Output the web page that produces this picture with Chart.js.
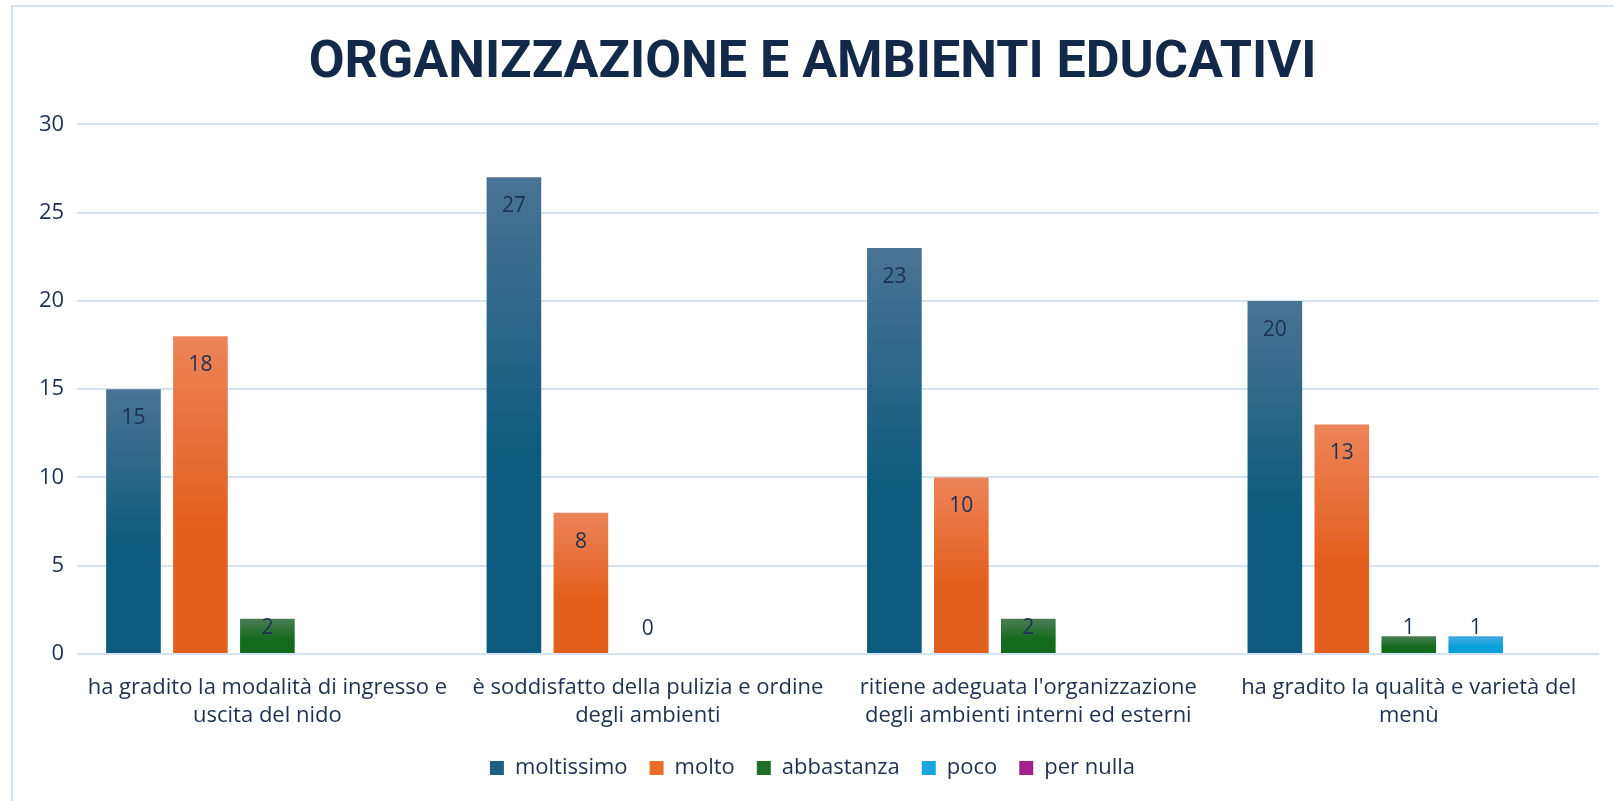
<!DOCTYPE html>
<html>
<head>
<meta charset="utf-8">
<script src="https://cdn.jsdelivr.net/npm/chart.js@4.4.1/dist/chart.umd.min.js"></script>
<style>
  html, body { margin: 0; padding: 0; background: #fff; }
  #wrap { position: relative; width: 1614px; height: 801px; overflow: hidden; }
  #frame { position: absolute; left: 11px; top: 5px; right: -10px; bottom: -10px; border: 2px solid #d5e4f4; }
  #c { position: absolute; left: 0; top: 0; }
</style>
</head>
<body>
<div id="wrap">
  <div id="frame"></div>
  <canvas id="c" width="1614" height="801"></canvas>
</div>
<script>
/* data */
const categories = [
  ["ha gradito la modalità di ingresso e", "uscita del nido"],
  ["è soddisfatto della pulizia e ordine", "degli ambienti"],
  ["ritiene adeguata l'organizzazione", "degli ambienti interni ed esterni"],
  ["ha gradito la qualità e varietà del", "menù"],
];
const seriesNames = ["moltissimo", "molto", "abbastanza", "poco", "per nulla"];
const moltissimo = [15, 27, 23, 20];
const molto = [18, 8, 10, 13];
const abbastanza = [2, 0, 2, 1];
const poco = [null, null, null, 1];
const perNulla = [null, null, null, null];
const yTicks = [0, 5, 10, 15, 20, 25, 30];

/* colours: [top, bottom] of each bar gradient */
const barColors = [
  ["#4b7393", "#0c5a7d"],
  ["#ec845a", "#e35f1d"],
  ["#4b7d55", "#136a1d"],
  ["#45aae2", "#069fd9"],
  ["#a8389a", "#9a1b8a"],
];
const legendColors = ["#1d6284", "#ea6b2c", "#1f6e29", "#1ba4dd", "#a0228f"];
const textColor = "#1e3150";
const gridColor = "#d3e3f4";

const allSeries = [moltissimo, molto, abbastanza, poco, perNulla];

const gradientFor = (idx) => (ctx) => {
  const chart = ctx.chart;
  const area = chart.chartArea;
  if (!area || ctx.raw == null) return barColors[idx][1];
  const y = chart.scales.y;
  const top = y.getPixelForValue(ctx.raw);
  const base = y.getPixelForValue(0);
  if (base - top < 1) return barColors[idx][1];
  const g = chart.ctx.createLinearGradient(0, top, 0, base);
  g.addColorStop(0, barColors[idx][0]);
  g.addColorStop(0.6, barColors[idx][1]);
  g.addColorStop(1, barColors[idx][1]);
  return g;
};

const valueLabels = {
  id: "valueLabels",
  afterDatasetsDraw(chart) {
    const ctx = chart.ctx;
    ctx.save();
    ctx.font = "21px 'Open Sans'";
    ctx.fillStyle = textColor;
    ctx.textAlign = "center";
    ctx.textBaseline = "middle";
    chart.data.datasets.forEach((ds, i) => {
      const meta = chart.getDatasetMeta(i);
      meta.data.forEach((bar, j) => {
        const v = ds.data[j];
        if (v == null) return;
        const y = Math.min(bar.y + 29, bar.base - 25);
        ctx.fillText(String(v), bar.x, y);
      });
    });
    ctx.restore();
  },
};

new Chart(document.getElementById("c").getContext("2d"), {
  type: "bar",
  data: {
    labels: categories,
    datasets: allSeries.map((d, i) => ({
      label: seriesNames[i],
      data: d,
      backgroundColor: gradientFor(i),
      categoryPercentage: 0.88,
      barPercentage: 0.816,
    })),
  },
  options: {
    responsive: false,
    animation: false,
    devicePixelRatio: 1,
    layout: { padding: { left: 26, right: 15, top: 0, bottom: 12 } },
    plugins: {
      title: {
        display: true,
        text: "ORGANIZZAZIONE E AMBIENTI EDUCATIVI",
        color: "#13294a",
        font: { family: "Roboto", size: 52, weight: "bold", lineHeight: 1.2 },
        padding: { top: 33, bottom: 29 },
      },
      legend: {
        position: "bottom",
        labels: {
          color: textColor,
          font: { family: "'Open Sans'", size: 22 },
          boxWidth: 14,
          boxHeight: 14,
          padding: 22,
          generateLabels: () =>
            seriesNames.map((n, i) => ({
              text: n,
              fillStyle: legendColors[i],
              strokeStyle: legendColors[i],
              fontColor: textColor,
              lineWidth: 0,
              datasetIndex: i,
            })),
        },
      },
      tooltip: { enabled: false },
    },
    scales: {
      x: {
        grid: { display: false },
        border: { display: false },
        afterFit: (scale) => {
          scale.height = 81;
        },
        ticks: {
          color: textColor,
          font: { family: "'Open Sans'", size: 22, lineHeight: 1.3 },
          padding: 11,
          maxRotation: 0,
          autoSkip: false,
        },
      },
      y: {
        min: 0,
        max: 30,
        afterBuildTicks: (axis) => {
          axis.ticks = yTicks.map((v) => ({ value: v }));
        },
        grid: { color: gridColor, lineWidth: 2, drawTicks: false },
        border: { display: false },
        ticks: {
          color: textColor,
          font: { family: "'Open Sans'", size: 22 },
          padding: 13,
        },
      },
    },
  },
  plugins: [valueLabels],
});
</script>
</body>
</html>
